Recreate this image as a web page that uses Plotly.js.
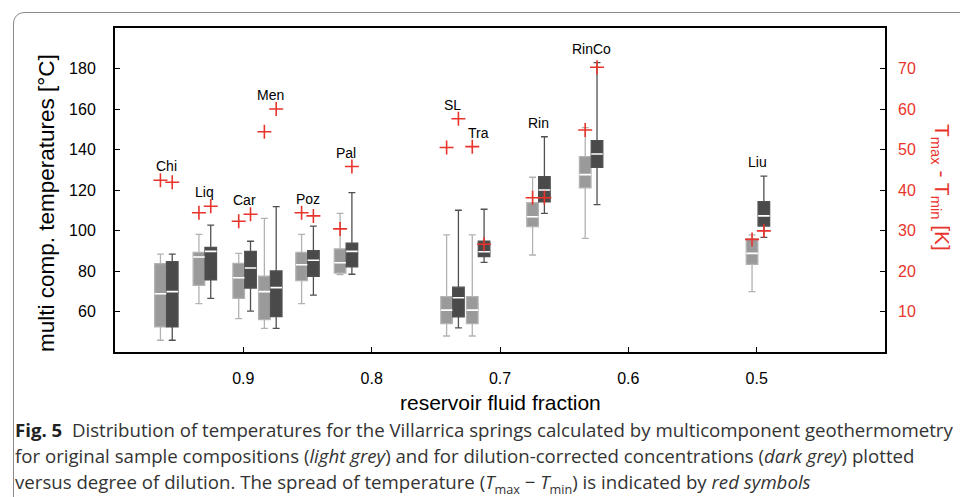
<!DOCTYPE html>
<html><head><meta charset="utf-8">
<script src="https://cdn.plot.ly/plotly-3.0.1.min.js"></script>
<style>
html,body{margin:0;padding:0;background:#fff;width:960px;height:497px;overflow:hidden;}
#chart{position:absolute;left:0;top:0;width:960px;height:497px;}
#frame{position:absolute;left:13px;top:12px;width:1000px;height:600px;border:1px solid #8a8a8a;border-radius:11px;pointer-events:none;}
.cap{position:absolute;left:15px;font-family:"Open Sans",sans-serif;font-size:16.5px;color:#333;white-space:nowrap;line-height:26px;}
.cap b{color:#222;}
.cap sub{font-size:0.68em;}
</style></head><body>
<div id="chart"></div><div id="frame"></div>
<div class="cap" id="c1" style="top:417px"><b>Fig. 5</b>&nbsp; Distribution of temperatures for the Villarrica springs calculated by multicomponent geothermometry</div>
<div class="cap" id="c2" style="top:443px">for original sample compositions (<i>light grey</i>) and for dilution-corrected concentrations (<i>dark grey</i>) plotted</div>
<div class="cap" id="c3" style="top:469px">versus degree of dilution. The spread of temperature (<i>T</i><sub>max</sub> − <i>T</i><sub>min</sub>) is indicated by <i>red symbols</i></div>
<script>
// ---- data ----
const springs  = ["Chi","Liq","Car","Men","Poz","Pal","SL","Tra","Rin","RinCo","Liu"];
const fraction = [0.960,0.930,0.899,0.879,0.850,0.820,0.737,0.717,0.670,0.629,0.499];

// original sample compositions (light grey), °C
const lowL  = [45.8, 63.9, 56.5, 51.7, 63.9, 78.2, 47.9, 47.9,  87.9,  96.1, 69.8];
const q1L   = [52.4, 72.9, 66.5, 56.0, 75.2, 79.0, 54.0, 54.0, 101.9, 121.1, 83.3];
const medL  = [68.8, 86.9, 76.7, 69.8, 83.1, 84.1, 60.7, 60.7, 106.8, 127.6, 88.7];
const q3L   = [83.6, 89.2, 83.8, 77.4, 89.2, 90.9, 67.3, 67.3, 113.7, 136.5, 95.8];
const highL = [88.3, 98.1, 88.7,106.0, 98.1,108.5, 97.8, 97.8, 126.3, 150.8, 97.8];

// dilution-corrected concentrations (dark grey), °C
const lowD  = [45.8, 66.5, 60.2, 51.7, 68.1, 78.4, 51.9, 84.3, 108.5, 112.8,  96.6];
const q1D   = [52.4, 75.6, 71.6, 57.5, 77.4, 82.1, 57.3, 87.1, 114.1, 131.2, 102.2];
const medD  = [69.8, 89.7, 81.5, 71.8, 85.3, 89.7, 66.8, 89.5, 120.0, 137.8, 107.2];
const q3D   = [84.6, 91.7, 89.7, 80.0, 90.0, 93.7, 72.0, 94.8, 126.6, 144.4, 114.2];
const highD = [88.3,102.7, 94.7,111.8,102.2,118.7,110.0,110.5, 146.3, 182.9, 126.9];

// spread Tmax - Tmin, K (right axis)
const spreadL = [42.4, 34.4, 32.3, 54.4, 34.4, 30.4, 50.5, 50.7, 38.1, 54.8, 27.8];
const spreadD = [41.9, 36.0, 34.0, 60.0, 33.6, 45.8, 57.6, 26.6, 38.1, 70.3, 29.9];

const xTicks  = [0.9, 0.8, 0.7, 0.6, 0.5];
const yTicks  = [60, 80, 100, 120, 140, 160, 180];
const y2Ticks = [10, 20, 30, 40, 50, 60, 70];

// ---- styling ----
const off = 0.0046, bw = 0.009;
const RED = '#e8342c';
const FONT = 'Liberation Sans, Arial, sans-serif';
const xL = fraction.map(f => f + off);
const xD = fraction.map(f => f - off);

function boxTrace(x, lo, q1, med, q3, hi, fill, line, lw) {
  return {type:'box', orientation:'v', x:x, lowerfence:lo, q1:q1, median:med, q3:q3, upperfence:hi,
    width:bw, fillcolor:fill, line:{color:line, width:lw}, whiskerwidth:0.6,
    boxpoints:false, hoverinfo:'skip', showlegend:false, xaxis:'x', yaxis:'y'};
}

const traces = [
  boxTrace(xL, lowL, q1L, medL, q3L, highL, '#9a9a9a', '#b2b2b2', 1.3),
  boxTrace(xD, lowD, q1D, medD, q3D, highD, '#4a4a4a', '#505050', 1.3),
  boxTrace(xL, medL, medL, medL, medL, medL, 'rgba(0,0,0,0)', '#ffffff', 1.6),
  boxTrace(xD, medD, medD, medD, medD, medD, 'rgba(0,0,0,0)', '#ffffff', 1.6),
  {type:'scatter', mode:'markers', x:xL, y:spreadL, yaxis:'y2', showlegend:false, hoverinfo:'skip',
   marker:{symbol:'cross-thin', size:10, color:RED, line:{color:RED, width:1.6}}},
  {type:'scatter', mode:'markers', x:xD, y:spreadD, yaxis:'y2', showlegend:false, hoverinfo:'skip',
   marker:{symbol:'cross-thin', size:10, color:RED, line:{color:RED, width:1.6}}}
];

const annotations = springs.map((s, i) => ({
  text: s, x: fraction[i], xref:'x', yref:'y',
  y: Math.max(highL[i], highD[i], spreadL[i]*2 + 40, spreadD[i]*2 + 40),
  yanchor:'middle', xanchor:'center', yshift:14, showarrow:false,
  font:{family:FONT, size:14, color:'#000'}
}));
annotations.push({text:'multi comp. temperatures [°C]', xref:'paper', yref:'paper', x:0, y:0.5,
  xshift:-69, yshift:-13, textangle:-90, showarrow:false, xanchor:'center', yanchor:'middle',
  font:{family:FONT, size:22.5, color:'#000'}});
annotations.push({text:'reservoir fluid fraction', xref:'paper', yref:'paper', x:0.5, y:0,
  yshift:-50, showarrow:false, xanchor:'center', yanchor:'middle',
  font:{family:FONT, size:21, color:'#000'}});
annotations.push({text:'T<sub>max</sub> - T<sub>min</sub> [K]', xref:'paper', yref:'paper', x:1, y:0.5,
  xshift:56, yshift:3, textangle:90, showarrow:false, xanchor:'center', yanchor:'middle',
  font:{family:FONT, size:21, color:RED}});

const axBase = {ticks:'inside', ticklen:5, tickwidth:1, tickcolor:'#000', showgrid:false, zeroline:false,
  tickfont:{family:FONT, size:16, color:'#000'}};

const layout = {
  width:960, height:497, margin:{l:115, r:75, t:28, b:145},
  paper_bgcolor:'#fff', plot_bgcolor:'#fff', boxmode:'overlay', showlegend:false,
  xaxis:Object.assign({}, axBase, {range:[1.0, 0.4], tickvals:xTicks, showline:true, linecolor:'#000',
    linewidth:2, mirror:true, ticklabelstandoff:11}),
  yaxis:Object.assign({}, axBase, {range:[40, 200], tickvals:yTicks, showline:true, linecolor:'#000',
    linewidth:2, mirror:true, ticklabelstandoff:14}),
  yaxis2:Object.assign({}, axBase, {overlaying:'y', side:'right', range:[0, 80], tickvals:y2Ticks,
    showline:false, ticklabelstandoff:12, tickfont:{family:FONT, size:16, color:RED}}),
  annotations:annotations
};

Plotly.newPlot('chart', traces, layout, {displayModeBar:false, staticPlot:true}).then(() => {
  const c1 = document.getElementById('c1');
  const w = c1.getBoundingClientRect().width;
  const fs = 16.5 * 938 / w;
  ['c1','c2','c3'].forEach(id => document.getElementById(id).style.fontSize = fs.toFixed(2) + 'px');
});
</script>
</body></html>
